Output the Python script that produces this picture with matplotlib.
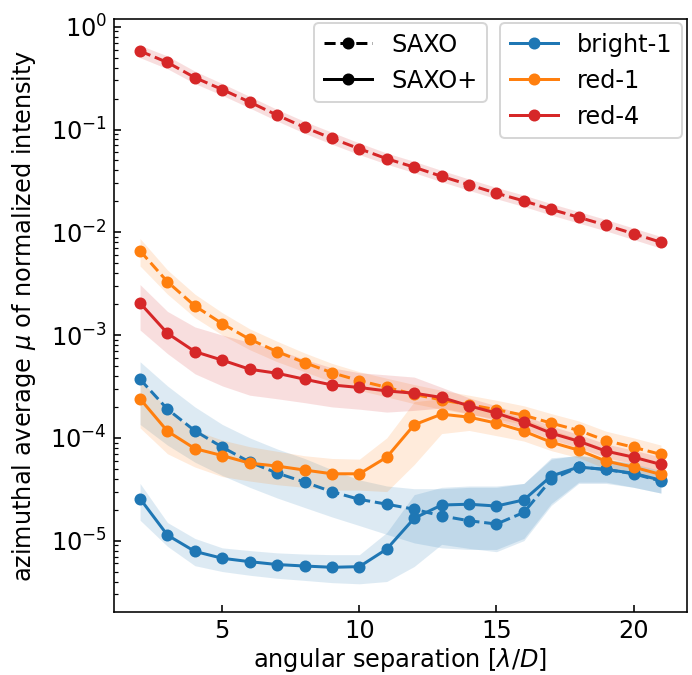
import matplotlib
matplotlib.use('Agg')
import matplotlib.pyplot as plt
from matplotlib.lines import Line2D
import numpy as np

sep = np.arange(2, 22)

# SAXO (dashed)
red4_saxo = [0.58, 0.45, 0.32, 0.245, 0.185, 0.138, 0.105, 0.082, 0.065, 0.052,
             0.043, 0.035, 0.029, 0.024, 0.0202, 0.0167, 0.0140, 0.0117, 0.0097, 0.0080]
red4_saxo_lo = [0.50, 0.39, 0.28, 0.215, 0.162, 0.121, 0.092, 0.072, 0.057, 0.046,
                0.038, 0.031, 0.0256, 0.0212, 0.0178, 0.0147, 0.0123, 0.0103, 0.0085, 0.0070]
red4_saxo_hi = [0.66, 0.52, 0.37, 0.28, 0.21, 0.157, 0.12, 0.094, 0.074, 0.059,
                0.049, 0.040, 0.033, 0.0273, 0.023, 0.019, 0.0159, 0.0133, 0.011, 0.0091]

red1_saxo = [0.0066, 0.0033, 0.00192, 0.00129, 0.00091, 0.00069, 0.00054, 0.00043, 0.00036, 0.00031,
             0.000265, 0.000234, 0.000210, 0.000188, 0.000166, 0.000139, 0.000118, 0.000094, 0.000081, 0.000069]
red1_saxo_lo = [0.0047, 0.0025, 0.00148, 0.00100, 0.00072, 0.00055, 0.00044, 0.00035, 0.00029, 0.00025,
                0.000215, 0.00019, 0.00017, 0.000153, 0.000135, 0.000113, 0.000096, 0.000077, 0.000066, 0.000056]
red1_saxo_hi = [0.0087, 0.0043, 0.0025, 0.00165, 0.00115, 0.00087, 0.00067, 0.00053, 0.00044, 0.00038,
                0.00033, 0.00029, 0.00026, 0.000232, 0.000205, 0.000172, 0.000146, 0.000116, 0.0001, 0.000085]

bright1_saxo = [0.000372, 0.00019, 0.000117, 0.0000811, 0.0000581, 0.0000454, 0.0000371, 0.0000299, 0.0000252, 0.0000226,
                0.0000202, 0.0000174, 0.0000156, 0.0000145, 0.0000188, 0.0000394, 0.0000519, 0.0000492, 0.0000447, 0.000038]
bright1_saxo_lo = [0.000135, 0.000085, 0.000058, 0.000043, 0.000033, 0.000026, 0.000021, 0.000017, 0.000014, 0.0000115,
                   0.0000095, 0.0000085, 0.0000082, 0.0000082, 0.0000105, 0.000023, 0.000037, 0.000037, 0.000033, 0.000029]
bright1_saxo_hi = [0.00055, 0.00032, 0.0002, 0.000135, 0.0001, 0.000078, 0.000063, 0.000049, 0.000039, 0.000034,
                   0.000032, 0.000032, 0.000033, 0.000033, 0.000036, 0.000062, 0.000068, 0.000062, 0.000056, 0.000047]

# SAXO+ (solid)
red4_plus = [0.00205, 0.00104, 0.00069, 0.00057, 0.000465, 0.000425, 0.000372, 0.000327, 0.000309, 0.000286,
             0.000272, 0.000247, 0.000205, 0.000174, 0.000142, 0.000111, 0.0000927, 0.0000742, 0.0000649, 0.0000551]
red4_plus_lo = [0.00112, 0.00066, 0.00042, 0.00032, 0.00026, 0.00024, 0.00022, 0.0002, 0.00019, 0.000178,
                0.000185, 0.000195, 0.000172, 0.000148, 0.000122, 0.000096, 0.00008, 0.000064, 0.000056, 0.000047]
red4_plus_hi = [0.0031, 0.0017, 0.0012, 0.001, 0.00085, 0.00072, 0.00058, 0.00048, 0.00043, 0.00041,
                0.00039, 0.00031, 0.000245, 0.000205, 0.000167, 0.00013, 0.000108, 0.000087, 0.000076, 0.000065]

red1_plus = [0.00024, 0.000116, 0.0000785, 0.0000672, 0.0000567, 0.0000531, 0.0000486, 0.0000447, 0.0000447, 0.0000649,
             0.000134, 0.00017, 0.000159, 0.000139, 0.000116, 0.0000906, 0.0000759, 0.0000593, 0.0000519, 0.000044]
red1_plus_lo = [0.000125, 0.00007, 0.000052, 0.000042, 0.000038, 0.000035, 0.000033, 0.000031, 0.000031, 0.00003,
                0.000055, 0.00011, 0.000118, 0.000105, 0.000093, 0.000075, 0.000064, 0.00005, 0.000044, 0.000037]
red1_plus_hi = [0.00037, 0.00019, 0.000118, 0.000095, 0.000082, 0.000074, 0.000067, 0.000063, 0.000062, 0.0001,
                0.000225, 0.00024, 0.000215, 0.000185, 0.000155, 0.00012, 0.000098, 0.000077, 0.000066, 0.000055]

bright1_plus = [0.0000256, 0.0000113, 0.00000785, 0.00000673, 0.00000624, 0.00000585, 0.00000566, 0.0000055, 0.00000558, 0.00000828,
                0.0000165, 0.0000222, 0.0000226, 0.0000217, 0.0000249, 0.0000425, 0.000052, 0.0000492, 0.0000452, 0.0000387]
bright1_plus_lo = [0.0000158, 0.0000088, 0.0000057, 0.000005, 0.0000046, 0.0000043, 0.0000041, 0.0000039, 0.0000038, 0.000004,
                   0.0000056, 0.0000092, 0.0000084, 0.0000078, 0.00001, 0.000022, 0.000036, 0.000036, 0.000033, 0.000029]
bright1_plus_hi = [0.000036, 0.000015, 0.0000105, 0.0000085, 0.000008, 0.0000076, 0.0000074, 0.0000073, 0.0000073, 0.000012,
                   0.000028, 0.000033, 0.000034, 0.000034, 0.000036, 0.000064, 0.000067, 0.000062, 0.000056, 0.000048]

names = ['bright-1', 'red-1', 'red-4']
colors = ['C0', 'C1', 'C3']

saxo = [(bright1_saxo, bright1_saxo_lo, bright1_saxo_hi),
        (red1_saxo, red1_saxo_lo, red1_saxo_hi),
        (red4_saxo, red4_saxo_lo, red4_saxo_hi)]
plus = [(bright1_plus, bright1_plus_lo, bright1_plus_hi),
        (red1_plus, red1_plus_lo, red1_plus_hi),
        (red4_plus, red4_plus_lo, red4_plus_hi)]

plt.rcParams['font.size'] = 12

fig = plt.figure(figsize=(692/144, 675/144), dpi=144)
ax = fig.add_axes([114/692, 1 - 612/675, 573/692, 593/675])

# bands first, lines on top
for (mu, lo, hi), c in zip(saxo, colors):
    ax.fill_between(sep, lo, hi, color=c, alpha=0.15, lw=0)
    ax.plot(sep, mu, '--o', color=c, ms=5)
for (mu, lo, hi), c in zip(plus, colors):
    ax.fill_between(sep, lo, hi, color=c, alpha=0.15, lw=0)
    ax.plot(sep, mu, '-o', color=c, ms=5)

ax.set_yscale('log')
ax.set_ylim(2.02e-6, 1.19)
ax.set_xlim(1.05, 21.95)
ax.tick_params(which='both', direction='in')
ax.set_xlabel(r'angular separation [$\lambda/D$]', labelpad=1.5)
ax.set_ylabel(r'azimuthal average $\mu$ of normalized intensity', labelpad=6)

style_handles = [Line2D([], [], color='k', ls='--', marker='o', ms=5),
                 Line2D([], [], color='k', ls='-', marker='o', ms=5)]
leg1 = ax.legend(style_handles, ['SAXO', 'SAXO+'], loc='upper right',
                 bbox_to_anchor=((487 - 114)/573, (612 - 23)/593), borderaxespad=0)
ax.add_artist(leg1)
color_handles = [Line2D([], [], color=c, marker='o', ms=5) for c in colors]
ax.legend(color_handles, names, loc='upper right',
          bbox_to_anchor=((682 - 114)/573, (612 - 23)/593), borderaxespad=0)

fig.savefig('out.png', dpi=144)
